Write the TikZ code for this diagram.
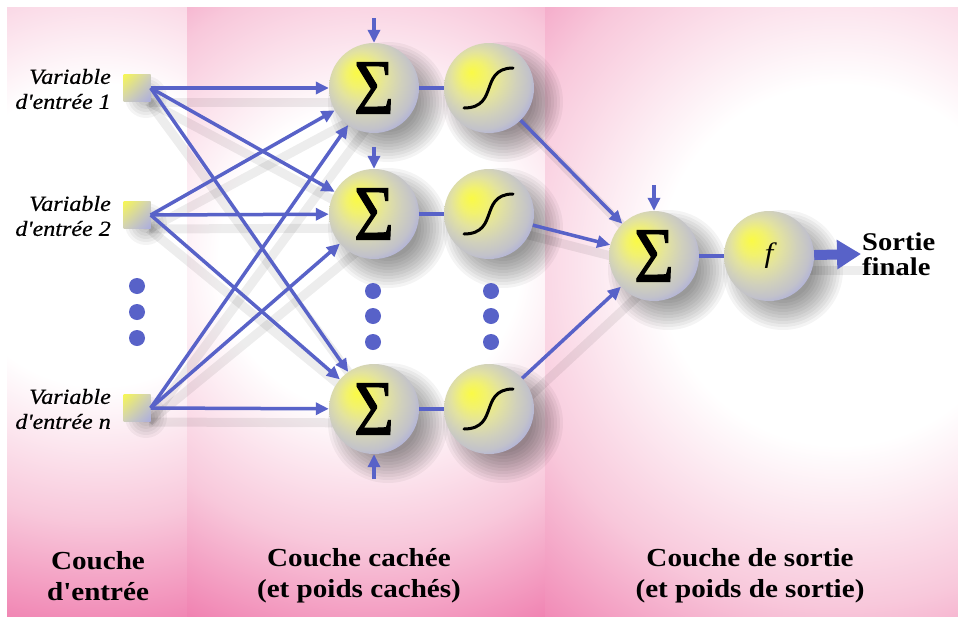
\documentclass[tikz,border=0pt]{standalone}
\usepackage{fontspec}
\setmainfont{Liberation Serif}
\newfontfamily\palfont[FakeStretch=1.12]{Liberation Serif}
\newfontfamily\labfont[FakeStretch=1.12,FakeBold=0.6]{Liberation Serif}
\newfontfamily\sigfont[FakeStretch=0.88,FakeBold=1.2]{Liberation Serif}
\usetikzlibrary{arrows.meta,shadings}

\definecolor{pinkdeep}{RGB}{240,128,176}
\definecolor{pinkmid}{RGB}{248,200,219}
\definecolor{linkblue}{RGB}{88,98,200}
\definecolor{by0}{RGB}{250,250,70}
\definecolor{by1}{RGB}{242,242,110}
\definecolor{by2}{RGB}{226,226,160}
\definecolor{by3}{RGB}{208,208,188}
\definecolor{by4}{RGB}{194,194,202}
\definecolor{by5}{RGB}{170,172,222}
\definecolor{by6}{RGB}{150,152,230}

\pgfdeclareradialshading{panelglow}{\pgfpoint{0bp}{0bp}}{color(0bp)=(white); color(9bp)=(white); color(17bp)=(pinkmid); color(24bp)=(pinkdeep); color(50bp)=(pinkdeep)}
\pgfdeclareradialshading{neuronball}{\pgfpoint{-10bp}{9bp}}{color(0bp)=(by0); color(7bp)=(by1); color(14bp)=(by2); color(21bp)=(by3); color(27bp)=(by4); color(32bp)=(by5); color(40bp)=(by6); color(50bp)=(by6)}

\begin{document}
\begin{tikzpicture}[x=1pt,y=-1pt,
  neuron/.style={circle,minimum size=90pt,inner sep=0pt,shading=neuronball},
  inbox/.style={rectangle,minimum size=27pt,inner sep=0pt,upper left=by0!85!by2,upper right=by3,lower left=by3,lower right=by5},
  link/.style={draw=linkblue,line width=3.5pt,-{Triangle[length=13pt,width=12pt]}},
  plainlink/.style={draw=linkblue,line width=3.5pt},
  bigarrow/.style={draw=linkblue,line width=10pt,-{Triangle[length=24pt,width=28pt]}},
  lshadow/.style={draw=black,opacity=0.07,line width=9pt},
  softshade/.style={fill=black,opacity=0.045},
  sigline/.style={draw=black,line width=3pt,line cap=round},
  bluedot/.style={circle,fill=linkblue,minimum size=16pt,inner sep=0pt},
  sigma/.style={font=\sigfont\fontsize{78}{78}\selectfont},
  inlabel/.style={anchor=east,align=right,inner sep=0pt,font=\labfont\itshape\fontsize{21.5}{25}\selectfont},
  laylabel/.style={align=center,inner sep=0pt,font=\palfont\bfseries\fontsize{26}{31}\selectfont}
]
\useasboundingbox (0,0) rectangle (958,616);

% ---------- background panels
\fill[pinkdeep] (0,0) rectangle (958,616);
\begin{scope}
\clip (7,7) rectangle (187,616);
\shade[shading=panelglow] (100,235) circle (420pt);
\end{scope}
\begin{scope}
\clip (187,7) rectangle (545,616);
\shade[shading=panelglow] (370,260) circle (420pt);
\end{scope}
\begin{scope}
\clip (545,7) rectangle (958,616);
\shade[shading=panelglow] (840,265) circle (500pt);
\end{scope}
\fill[white] (0,0) rectangle (958,7);
\fill[white] (0,0) rectangle (7,616);

% ---------- positions
\coordinate (pin1) at (137,88);
\coordinate (pin2) at (137,215);
\coordinate (pin3) at (137,408);
\coordinate (ph1) at (374,88);
\coordinate (ph2) at (374,214);
\coordinate (ph3) at (374,409);
\coordinate (pg1) at (489,88);
\coordinate (pg2) at (489,214);
\coordinate (pg3) at (489,409);
\coordinate (po) at (654,256);
\coordinate (pf) at (769,256);
\coordinate (pout) at (900,256);

% ---------- soft shadows
\foreach \i in {pin1,pin2,pin3}{\foreach \h in {ph1,ph2,ph3}{
  \draw[lshadow] ([shift={(12,14)}]\i) -- ([shift={(12,14)}]\h);}}
\foreach \g in {pg1,pg2,pg3}{\draw[lshadow] ([shift={(12,14)}]\g) -- ([shift={(12,14)}]po);}
\draw[lshadow] ([shift={(12,14)}]pf) -- ([shift={(0,14)}]pout);
\foreach \n in {ph1,ph2,ph3,pg1,pg2,pg3,po,pf}{
  \foreach \r in {30,33,...,60}{\fill[softshade] ([shift={(14,14)}]\n) circle (\r pt);}}
\foreach \n in {pin1,pin2,pin3}{
  \foreach \r in {6,9,...,21}{\fill[softshade] ([shift={(9,9)}]\n) circle (\r pt);}}

% ---------- nodes
\node[inbox] (in1) at (pin1) {};
\node[inbox] (in2) at (pin2) {};
\node[inbox] (in3) at (pin3) {};
\node[neuron,sigma] (h1) at (ph1) {Σ};
\node[neuron,sigma] (h2) at (ph2) {Σ};
\node[neuron,sigma] (h3) at (ph3) {Σ};
\node[neuron] (g1) at (pg1) {};
\node[neuron] (g2) at (pg2) {};
\node[neuron] (g3) at (pg3) {};
\node[neuron,sigma] (o) at (po) {Σ};
\node[neuron] (f) at (pf) {\palfont\itshape\fontsize{28}{28}\selectfont f};
\node[anchor=west,align=left,inner sep=1pt,font=\palfont\bfseries\fontsize{25.5}{25}\selectfont] (sortie) at (861,254) {Sortie\\finale};

% sigmoid curves
\foreach \g in {g1,g2,g3}{
  \draw[sigline,shift={(\g)}] (-25,20) .. controls (-6,20) and (-3,8) .. (0,0) .. controls (3,-8) and (6,-20) .. (24,-20);
}

% dots
\node[bluedot] (di1) at (137,286) {};
\node[bluedot] (di2) at (137,312) {};
\node[bluedot] (di3) at (137,338) {};
\node[bluedot] (dh1) at (373,291) {};
\node[bluedot] (dh2) at (373,316) {};
\node[bluedot] (dh3) at (373,342) {};
\node[bluedot] (dg1) at (491,291) {};
\node[bluedot] (dg2) at (491,316) {};
\node[bluedot] (dg3) at (491,342) {};

% bias sources
\coordinate (b1) at (374,18);
\coordinate (b2) at (374,147);
\coordinate (b3) at (374,479);
\coordinate (bo) at (654,185);

% ---------- connectors
\foreach \i in {in1,in2,in3}{\foreach \h in {h1,h2,h3}{\draw[link] (\i.east) -- (\h);}}
\foreach \h/\g in {h1/g1,h2/g2,h3/g3}{\draw[plainlink] (\h) -- (\g);}
\foreach \g in {g1,g2,g3}{\draw[link] (\g) -- (o);}
\draw[plainlink] (o) -- (f);
\draw[link] (b1) -- (h1);
\draw[link] (b2) -- (h2);
\draw[link] (b3) -- (h3);
\draw[link] (bo) -- (o);
\draw[bigarrow] (f) -- (sortie.west);

% ---------- labels
\node[inlabel] (l1) at (111,89) {Variable\\d'entrée 1};
\node[inlabel] (l2) at (111,216) {Variable\\d'entrée 2};
\node[inlabel] (l3) at (111,409) {Variable\\d'entrée n};
\node[laylabel] (c1) at (98,576) {Couche\\d'entrée};
\node[laylabel] (c2) at (359,576) {Couche cachée\\(et poids cachés)};
\node[laylabel] (c3) at (750,576) {Couche de sortie\\(et poids de sortie)};
\end{tikzpicture}
\end{document}
